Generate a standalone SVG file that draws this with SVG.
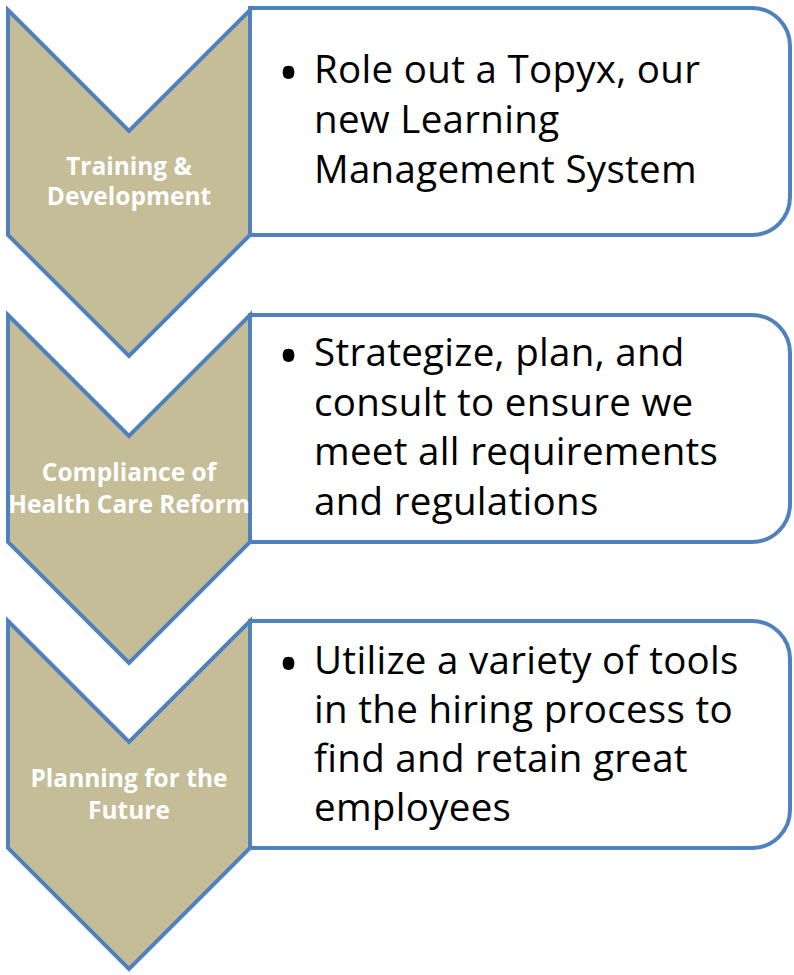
<svg xmlns="http://www.w3.org/2000/svg" width="794" height="975" viewBox="0 0 794 975">
  <style>
    .chev { fill: #C4BD97; stroke: #4F81BD; stroke-width: 4; stroke-linejoin: miter; }
    .box { fill: #FFFFFF; stroke: #4F81BD; stroke-width: 4; }
    .lbl { font-family: "Open Sans", "Liberation Sans", sans-serif; font-weight: bold; font-size: 24.5px; fill: #FFFFFF; text-anchor: middle; }
    .body { font-family: "Open Sans", "Liberation Sans", sans-serif; font-size: 38.5px; letter-spacing: 0.3px; fill: #000000; }
    .bullet { font-family: "Open Sans", "Liberation Sans", sans-serif; font-size: 56px; fill: #000000; }
  </style>
  <rect width="794" height="975" fill="#FFFFFF"/>

  <!-- Step 1 -->
  <g id="step1-detail">
    <path class="box" d="M250 8 H752 A38 38 0 0 1 790 46 V197 A38 38 0 0 1 752 235 H250 Z"/>
    <text class="bullet" x="278" y="93">•</text>
    <text class="body" x="314" y="83">Role out a Topyx, our</text>
    <text class="body" x="314" y="133">new Learning</text>
    <text class="body" x="314" y="183">Management System</text>
  </g>
  <g id="step1">
    <path class="chev" d="M8 10 L129 131 L250 10 V235 L129 356 L8 235 Z"/>
    <text class="lbl" x="129" y="175">Training &amp;</text>
    <text class="lbl" x="129" y="205">Development</text>
  </g>

  <!-- Step 2 -->
  <g id="step2-detail">
    <path class="box" d="M250 315 H752 A38 38 0 0 1 790 353 V504 A38 38 0 0 1 752 542 H250 Z"/>
    <text class="bullet" x="278" y="376">•</text>
    <text class="body" x="314" y="366">Strategize, plan, and</text>
    <text class="body" x="314" y="415.5">consult to ensure we</text>
    <text class="body" x="314" y="465">meet all requirements</text>
    <text class="body" x="314" y="514.5">and regulations</text>
  </g>
  <g id="step2">
    <path class="chev" d="M8 315 L129 436 L250 315 V542 L129 663 L8 542 Z"/>
    <text class="lbl" x="129" y="481">Compliance of</text>
    <text class="lbl" x="129" y="513">Health Care Reform</text>
  </g>

  <!-- Step 3 -->
  <g id="step3-detail">
    <path class="box" d="M250 621 H752 A38 38 0 0 1 790 659 V810 A38 38 0 0 1 752 848 H250 Z"/>
    <text class="bullet" x="278" y="684">•</text>
    <text class="body" x="314" y="674">Utilize a variety of tools</text>
    <text class="body" x="314" y="723">in the hiring process to</text>
    <text class="body" x="314" y="772">find and retain great</text>
    <text class="body" x="314" y="821">employees</text>
  </g>
  <g id="step3">
    <path class="chev" d="M8 621 L129 742 L250 621 V848 L129 969 L8 848 Z"/>
    <text class="lbl" x="129" y="787">Planning for the</text>
    <text class="lbl" x="129" y="819">Future</text>
  </g>

  <g id="connectors"/>
</svg>
